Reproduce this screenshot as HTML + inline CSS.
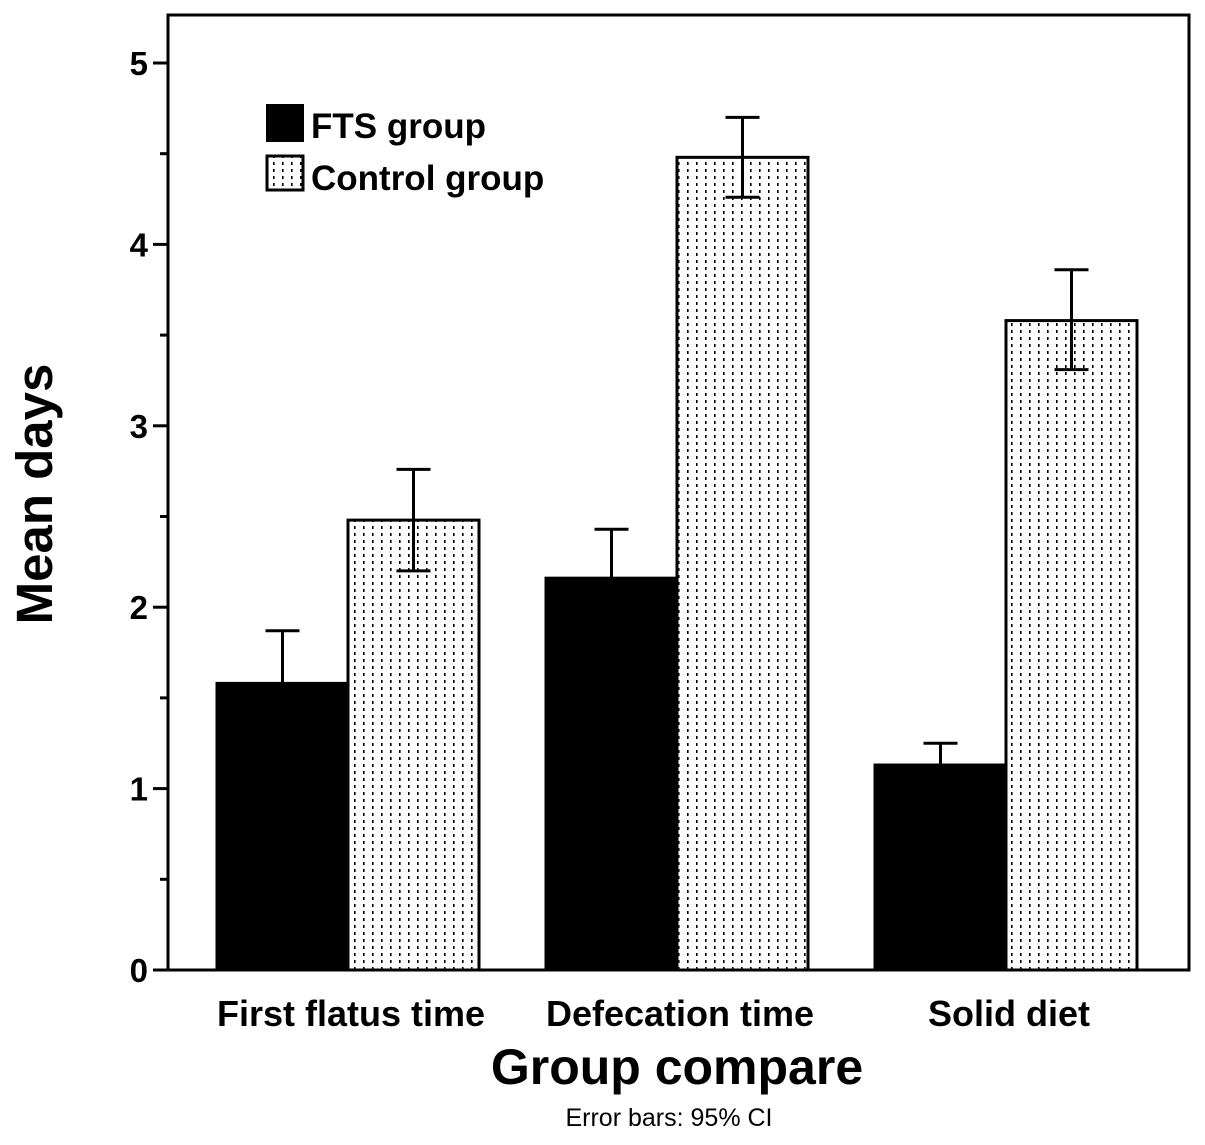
<!DOCTYPE html>
<html><head><meta charset="utf-8"><style>
body{margin:0;background:#fff}
svg text{font-family:"Liberation Sans",Arial,sans-serif;font-weight:bold;fill:#000}
</style></head><body>
<svg id="chart" width="1205" height="1140" viewBox="0 0 1205 1140" xmlns="http://www.w3.org/2000/svg">
<defs>
<pattern id="dots" width="9" height="7" patternUnits="userSpaceOnUse">
<rect width="9" height="7" fill="#fff"/><rect x="3" y="1" width="1.6" height="3" fill="#000"/>
</pattern>
</defs>
<rect x="168" y="15" width="1021" height="955" fill="none" stroke="#000" stroke-width="3"/>
<g id="bars"></g>
<g id="yaxis"></g>
<g>
<rect x="266" y="104" width="38" height="38" fill="#000"/>
<text x="311" y="138" font-size="35">FTS group</text>
<rect x="267" y="156" width="36" height="34" fill="url(#dots)" stroke="#000" stroke-width="3"/>
<text x="311" y="190" font-size="35">Control group</text>
</g>
<text transform="translate(52,494) rotate(-90)" text-anchor="middle" font-size="51">Mean days</text>
<text x="677" y="1084" text-anchor="middle" font-size="50">Group compare</text>
<text x="669" y="1126" text-anchor="middle" font-size="25" style="font-weight:normal">Error bars: 95% CI</text>
</svg>
<script>
const categories=["First flatus time","Defecation time","Solid diet"];
const ftsMean=[1.58,2.16,1.13];
const ftsLow=[1.28,1.89,1.01];
const ftsHigh=[1.87,2.43,1.25];
const ctrlMean=[2.48,4.48,3.58];
const ctrlLow=[2.2,4.26,3.31];
const ctrlHigh=[2.76,4.70,3.86];
const yTicks=[0,1,2,3,4,5];
const NS="http://www.w3.org/2000/svg";
const y0=970,y5=63;
function yS(v){return y0-(y0-y5)*v/5;}
function xC(i){return 348+i*329;}
function mk(t,a,p){const e=document.createElementNS(NS,t);for(const k in a)e.setAttribute(k,a[k]);p.appendChild(e);return e;}
const bars=document.getElementById('bars'),ya=document.getElementById('yaxis');
const bw=131;
function bar(x,m,lo,hi,fill,name){
  const r=mk('rect',{x:x,y:yS(m),width:bw,height:y0-yS(m),fill:fill,stroke:'#000','stroke-width':3},bars);
  
  
  const cx=x+bw/2;
  const g=mk('g',{stroke:'#000','stroke-width':3},bars);
  
  
  mk('line',{x1:cx,x2:cx,y1:yS(hi),y2:yS(lo)},g);
  mk('line',{x1:cx-17,x2:cx+17,y1:yS(hi),y2:yS(hi)},g);
  mk('line',{x1:cx-17,x2:cx+17,y1:yS(lo),y2:yS(lo)},g);
}
categories.forEach((c,i)=>{
  const xc=xC(i);
  bar(xc-bw,ftsMean[i],ftsLow[i],ftsHigh[i],'#000','bar-fts-'+i);
  bar(xc,ctrlMean[i],ctrlLow[i],ctrlHigh[i],'url(#dots)','bar-control-'+i);
  const t=mk('text',{x:xc+3,y:1026,'text-anchor':'middle','font-size':36},bars);
  t.textContent=c;
  
  
});
yTicks.forEach(v=>{
  const y=yS(v);
  const l=mk('line',{x1:153,x2:169,y1:y,y2:y,stroke:'#000','stroke-width':3},ya);
  
  
  const t=mk('text',{x:148,y:y+12,'text-anchor':'end','font-size':33},ya);
  t.textContent=v;
  
  
  if(v<5){const ym=yS(v+0.5);
    const m=mk('line',{x1:160,x2:169,y1:ym,y2:ym,stroke:'#000','stroke-width':3},ya);
    
    }
});
</script>
</body></html>
